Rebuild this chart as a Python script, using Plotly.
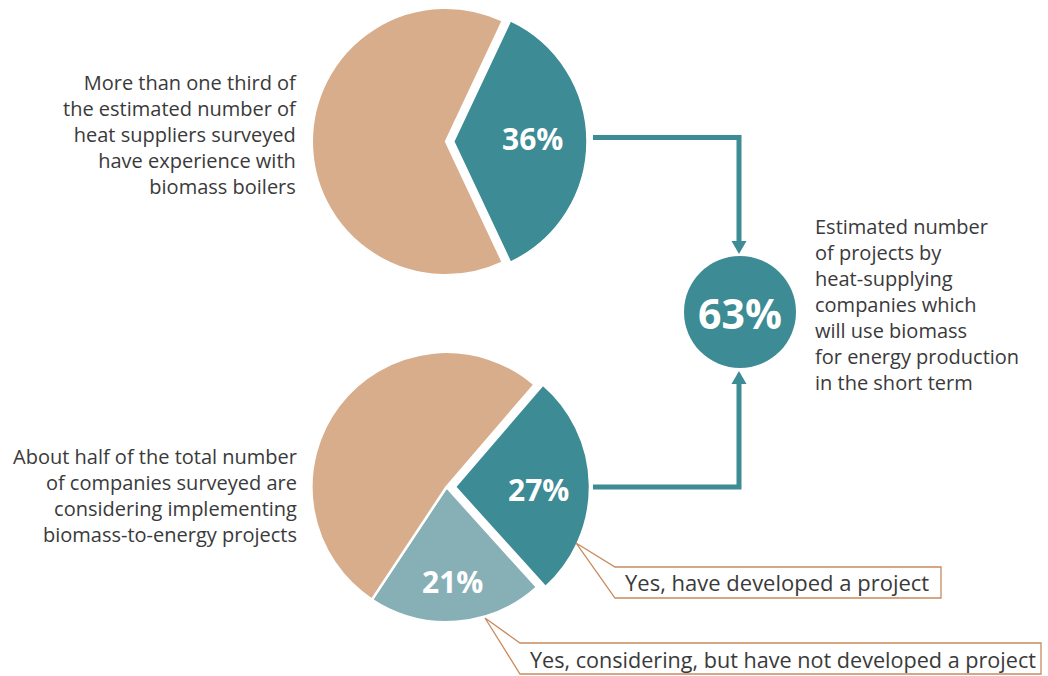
import plotly.graph_objects as go

W, H = 1048, 676

# Survey results (percent of heat-supplying companies)
boiler_labels = ["Have experience with biomass boilers", "No experience"]
boiler_values = [36, 64]

project_labels = ["Yes, have developed a project",
                  "Yes, considering, but have not developed a project",
                  "Not considering"]
project_values = [27, 21, 52]

combined_share = boiler_values[0] + project_values[0]  # 63

TAN = "#d8ad8b"
TEAL = "#3d8b94"
LIGHT_TEAL = "#86b0b6"
CALLOUT = "#c98a5e"
TEXT = "#3a3a3a"
FONT = "Open Sans"


def px(x):
    return x / W


def py(y):
    return 1 - y / H


def path(points, close=False):
    s = "M " + " L ".join(f"{px(x):.5f},{py(y):.5f}" for x, y in points)
    return s + (" Z" if close else "")


fig = go.Figure()

# Top pie: experience with biomass boilers
fig.add_trace(go.Pie(
    labels=boiler_labels, values=boiler_values, sort=False,
    direction="clockwise", rotation=25.2,
    pull=[0.062, 0],
    marker=dict(colors=[TEAL, TAN], line=dict(color="white", width=1.5)),
    textinfo="none", hoverinfo="skip", showlegend=False,
    domain=dict(x=[px(304), px(587)], y=[py(283), py(0)]),
))

# Bottom pie: biomass-to-energy projects
fig.add_trace(go.Pie(
    labels=project_labels, values=project_values, sort=False,
    direction="clockwise", rotation=40.7,
    pull=[0.062, 0, 0],
    marker=dict(colors=[TEAL, LIGHT_TEAL, TAN], line=dict(color="white", width=2.5)),
    textinfo="none", hoverinfo="skip", showlegend=False,
    domain=dict(x=[px(303), px(590)], y=[py(630.5), py(343.5)]),
))

shapes = []
annotations = []

# Connector arrows into the summary circle
line_style = dict(color=TEAL, width=5)
shapes.append(dict(type="path", xref="paper", yref="paper",
                   path=path([(593, 137.5), (739, 137.5), (739, 242)]),
                   line=line_style))
shapes.append(dict(type="path", xref="paper", yref="paper",
                   path=path([(593, 487), (739, 487), (739, 383)]),
                   line=line_style))
shapes.append(dict(type="path", xref="paper", yref="paper",
                   path=path([(731.5, 241), (746.5, 241), (739, 254)], close=True),
                   fillcolor=TEAL, line=dict(width=0)))
shapes.append(dict(type="path", xref="paper", yref="paper",
                   path=path([(731.5, 384), (746.5, 384), (739, 371)], close=True),
                   fillcolor=TEAL, line=dict(width=0)))

# Summary circle
shapes.append(dict(type="circle", xref="paper", yref="paper",
                   x0=px(684), x1=px(796), y0=py(256), y1=py(368),
                   fillcolor=TEAL, line=dict(width=0)))

# Callout boxes
shapes.append(dict(type="path", xref="paper", yref="paper",
                   path=path([(576, 543), (615, 567), (941, 567), (941, 598), (615, 598)], close=True),
                   line=dict(color=CALLOUT, width=1.3)))
shapes.append(dict(type="path", xref="paper", yref="paper",
                   path=path([(485, 618), (520, 643), (1041, 643), (1041, 674), (520, 674)], close=True),
                   line=dict(color=CALLOUT, width=1.3)))


def note(x, y, text, size, color=TEXT, xanchor="center", align="center", bold=False):
    annotations.append(dict(
        x=px(x), y=py(y), xref="paper", yref="paper", text=text,
        showarrow=False, xanchor=xanchor, yanchor="middle", align=align,
        font=dict(family=FONT, size=size, color=color,
                  weight="bold" if bold else "normal"),
    ))


# Percentages on the slices
note(533, 138, f"{boiler_values[0]}%", 30, "white", bold=True)
note(538, 489, f"{project_values[0]}%", 30, "white", bold=True)
note(452, 581, f"{project_values[1]}%", 30, "white", bold=True)
note(740, 313, f"{combined_share}%", 41, "white", bold=True)

# Descriptions
note(299, 134,
     "More than one third of<br>the estimated number of<br>heat suppliers surveyed"
     "<br>have experience with<br>biomass boilers",
     20, xanchor="right", align="right")
note(299, 495,
     "About half of the total number<br>of companies surveyed are"
     "<br>considering implementing<br>biomass-to-energy projects",
     20, xanchor="right", align="right")
note(813, 305,
     "Estimated number<br>of projects by<br>heat-supplying<br>companies which"
     "<br>will use biomass<br>for energy production<br>in the short term",
     20, xanchor="left", align="left")

# Callout labels
note(623, 582, project_labels[0], 22, xanchor="left", align="left")
note(528, 659, project_labels[1], 21.6, xanchor="left", align="left")

fig.update_layout(
    width=W, height=H,
    margin=dict(l=0, r=0, t=0, b=0),
    paper_bgcolor="white", plot_bgcolor="white",
    shapes=shapes, annotations=annotations,
    showlegend=False,
)

fig.write_html("out.html")
